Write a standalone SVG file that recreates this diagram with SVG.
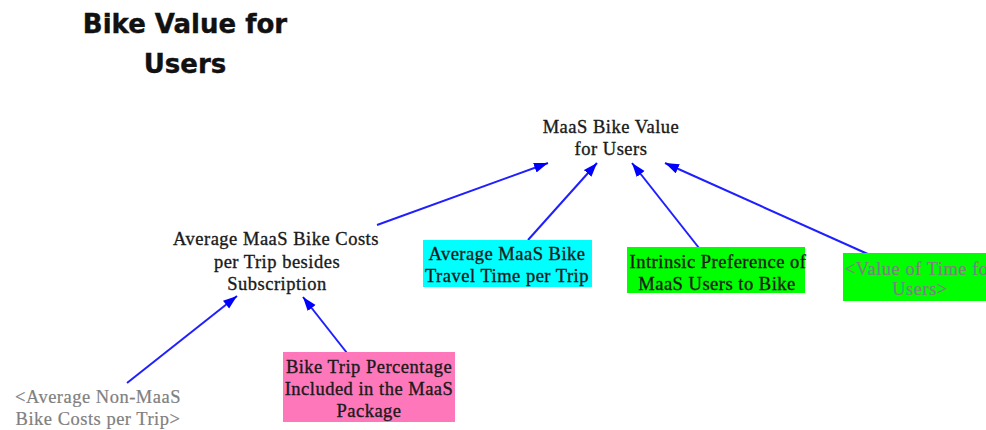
<svg xmlns="http://www.w3.org/2000/svg" width="986" height="430" viewBox="0 0 986 430">
  <style>
    .title { font-family: "DejaVu Sans", Verdana, sans-serif; font-weight: bold; font-size: 26px; fill: #111; stroke: #111; stroke-width: 0.4; text-anchor: middle; }
    .lbl { font-family: "Liberation Serif", "Times New Roman", serif; font-size: 18.5px; letter-spacing: 0.5px; fill: #1a1a1a; stroke: #1a1a1a; stroke-width: 0.35; text-anchor: middle; }
    .shadow { fill: #808080; stroke: #808080; stroke-width: 0.2; }
    .link { stroke: #1f1fff; stroke-width: 2; fill: none; marker-end: url(#head); }
  </style>
  <defs>
    <marker id="head" markerUnits="userSpaceOnUse" markerWidth="16" markerHeight="12" refX="14" refY="5" orient="auto">
      <path d="M0,0 L14,5 L0,10 z" fill="#0000ff"/>
    </marker>
  </defs>

  <rect width="986" height="430" fill="#ffffff"/>

  <g id="title">
    <text class="title" x="185" y="33">Bike Value for</text>
    <text class="title" x="185" y="73">Users</text>
  </g>

  <g id="connectors">
    <line class="link" x1="377" y1="225" x2="548" y2="163"/>
    <line class="link" x1="528" y1="240" x2="597" y2="163"/>
    <line class="link" x1="699" y1="248" x2="632" y2="163"/>
    <line class="link" x1="870" y1="255" x2="665" y2="163"/>
    <line class="link" x1="127" y1="383" x2="237" y2="296"/>
    <line class="link" x1="347" y1="353" x2="303" y2="297"/>
  </g>

  <g id="maas-bike-value">
    <text class="lbl" x="611" y="133">MaaS Bike Value</text>
    <text class="lbl" x="611" y="155">for Users</text>
  </g>

  <g id="avg-bike-costs">
    <text class="lbl" x="276" y="245">Average MaaS Bike Costs</text>
    <text class="lbl" x="277" y="268">per Trip besides</text>
    <text class="lbl" x="277" y="290">Subscription</text>
  </g>

  <g id="avg-travel-time">
    <rect x="423" y="240" width="169" height="47" fill="#00ffff"/>
    <text class="lbl" x="507" y="260">Average MaaS Bike</text>
    <text class="lbl" x="507" y="282">Travel Time per Trip</text>
  </g>

  <g id="intrinsic-preference">
    <rect x="627" y="247" width="178" height="46" fill="#00ff00"/>
    <text class="lbl" x="718" y="268">Intrinsic Preference of</text>
    <text class="lbl" x="717" y="290">MaaS Users to Bike</text>
  </g>

  <g id="value-of-time">
    <rect x="843" y="253" width="154" height="48" fill="#00ff00"/>
    <text class="lbl shadow" x="920" y="275">&lt;Value of Time for</text>
    <text class="lbl shadow" x="920" y="295">Users&gt;</text>
  </g>

  <g id="non-maas-costs">
    <text class="lbl shadow" x="98" y="403">&lt;Average Non-MaaS</text>
    <text class="lbl shadow" x="98" y="425">Bike Costs per Trip&gt;</text>
  </g>

  <g id="trip-percentage">
    <rect x="283" y="352" width="172" height="70" fill="#ff77bb"/>
    <text class="lbl" x="369" y="373">Bike Trip Percentage</text>
    <text class="lbl" x="369" y="395">Included in the MaaS</text>
    <text class="lbl" x="369" y="417">Package</text>
  </g>
</svg>
